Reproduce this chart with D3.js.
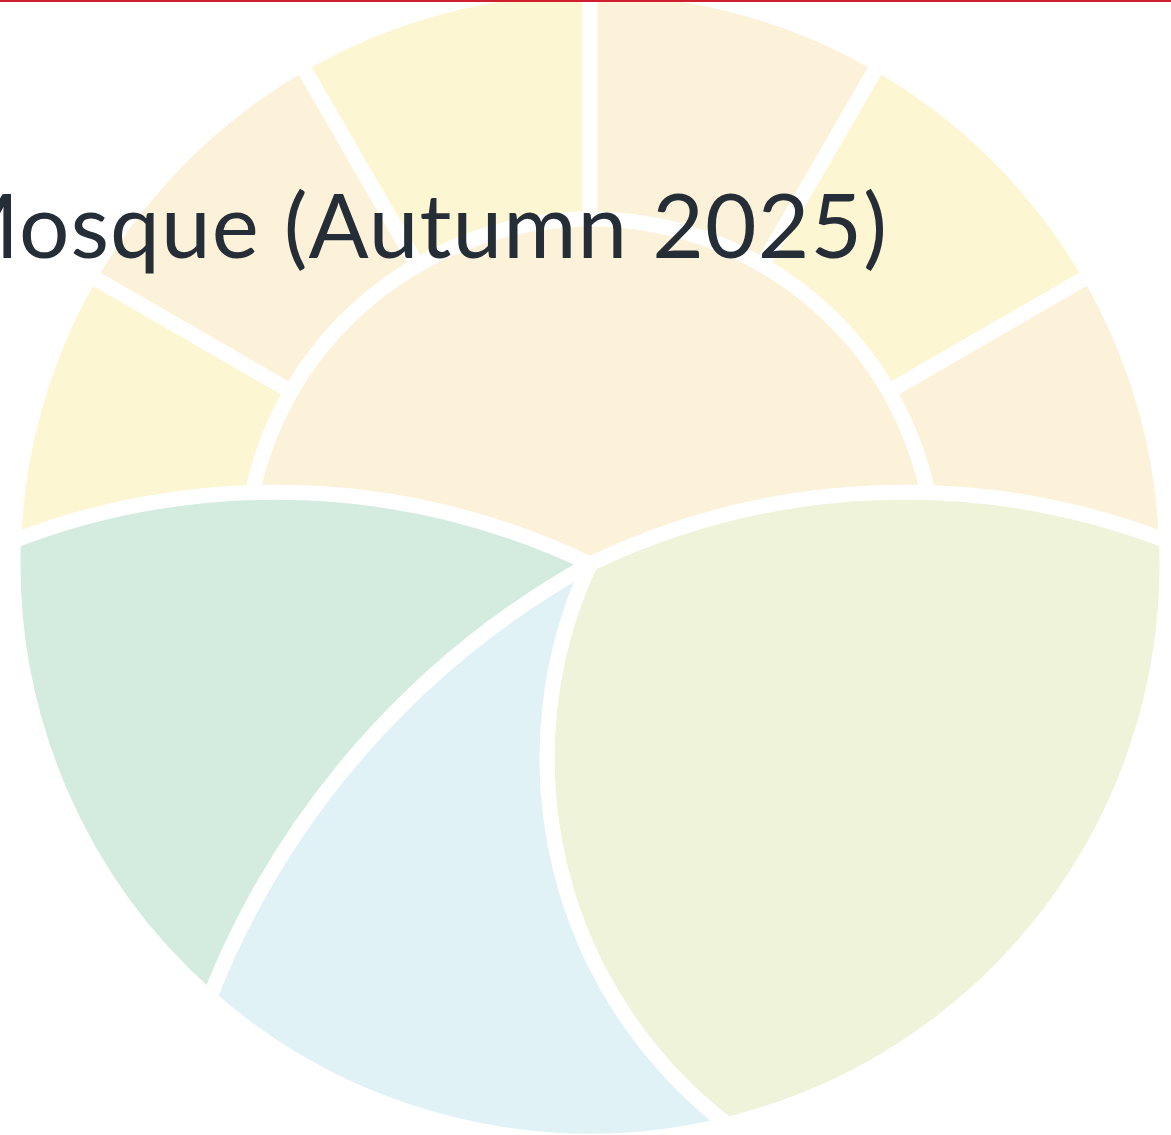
<!DOCTYPE html>
<html>
<head>
<meta charset="utf-8">
<script src="https://cdn.jsdelivr.net/npm/d3@7"></script>
<style>
	html, body { margin: 0; padding: 0; background: #ffffff; overflow: hidden; }
	#topline { position: absolute; left: 0; top: 0; width: 100%; height: 2px; background: #cf1f2e; }
	#chart { position: absolute; left: 0; top: 0; }
</style>
</head>
<body>
<div id="chart"></div>
<div id="topline"></div>
<script>
// Title and data
var chartTitle = "Mosque (Autumn 2025)";

// upper half: the dome (inner) and the six arches round it
var domeLabel = ["Dome"];
var domeValue = [180];
var archLabels = ["Arch 1", "Arch 2", "Arch 3", "Arch 4", "Arch 5", "Arch 6"];
var archValues = [30, 30, 30, 30, 30, 30];

// lower half, clockwise from the right
var baseLabels = ["East", "South", "West"];
var baseValues = [78.5, 55, 51];

var archColors = ["#fdf6d3", "#fcf2da", "#fdf6d3", "#fcf2da", "#fdf6d3", "#fcf2da"];
var domeColor = "#fcf2da";
var baseColors = ["#eef3d9", "#e1f2f7", "#d4ecdf"];

var width = 1171, height = 1135;
var cx = 590, cy = 564;
var outerR = 577;
var innerR = 345;
var gap = 15;

// bow of each lower boundary (radius as a share of outerR, and the sweep from centre to rim)
var bowRatio = [1.26, 0.8, 1.48, 1.26];
var bowSweep = [1, 0, 0, 0];

var svg = d3.select("#chart")
	.append("svg")
	.attr("width", width)
	.attr("height", height)
	.append("g");

var chart = svg.append("g")
	.attr("transform", "translate(" + cx + "," + cy + ")");

// Upper half: plain sunburst arcs
var upperPie = d3.pie()
	.sort(null)
	.value(function(d) { return d; })
	.startAngle(-Math.PI / 2)
	.endAngle(Math.PI / 2);

var ringArc = d3.arc()
	.innerRadius(innerR)
	.outerRadius(outerR);

var domeArc = d3.arc()
	.innerRadius(0)
	.outerRadius(innerR);

chart.selectAll(".arch")
	.data(upperPie(archValues))
	.enter()
	.append("path")
		.attr("class", "arch")
		.attr("d", ringArc)
		.attr("fill", function(d, i) { return archColors[i]; })
		.attr("stroke", "#ffffff")
		.style("stroke-width", gap + "px");

chart.selectAll(".dome")
	.data(upperPie(domeValue))
	.enter()
	.append("path")
		.attr("class", "dome")
		.attr("d", domeArc)
		.attr("fill", domeColor)
		.attr("stroke", "#ffffff")
		.style("stroke-width", gap + "px");

// Lower half: slices whose sides are bowed arcs instead of radii
var lowerPie = d3.pie()
	.sort(null)
	.value(function(d) { return d; })
	.startAngle(87.7 * Math.PI / 180)
	.endAngle(272.3 * Math.PI / 180);

function rim(a) {
	return [outerR * Math.sin(a), -outerR * Math.cos(a)];
}

function basePath(d, i) {
	var p0 = rim(d.startAngle);
	var p1 = rim(d.endAngle);
	var r0 = bowRatio[i] * outerR;
	var r1 = bowRatio[i + 1] * outerR;
	var large = (d.endAngle - d.startAngle) > Math.PI ? 1 : 0;
	return "M0,0" +
		"A" + r0 + "," + r0 + " 0 0 " + bowSweep[i] + " " + p0[0] + "," + p0[1] +
		"A" + outerR + "," + outerR + " 0 " + large + " 1 " + p1[0] + "," + p1[1] +
		"A" + r1 + "," + r1 + " 0 0 " + (1 - bowSweep[i + 1]) + " 0,0Z";
}

chart.selectAll(".base")
	.data(lowerPie(baseValues))
	.enter()
	.append("path")
		.attr("class", "base")
		.attr("d", basePath)
		.attr("fill", function(d, i) { return baseColors[i]; })
		.attr("stroke", "#ffffff")
		.style("stroke-width", gap + "px")
		.style("stroke-linejoin", "round");

// Title
svg.append("text")
	.attr("x", 888)
	.attr("y", 258)
	.attr("text-anchor", "end")
	.style("font-family", "Lato, 'Noto Sans', sans-serif")
	.style("font-size", "89px")
	.style("letter-spacing", "1.1px")
	.style("fill", "#252d37")
	.text(chartTitle);
</script>
</body>
</html>
